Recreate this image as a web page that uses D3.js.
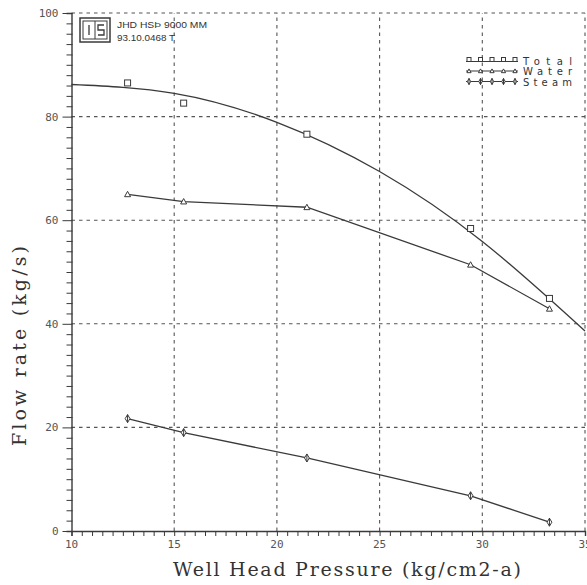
<!DOCTYPE html>
<html><head><meta charset="utf-8">
<script src="https://cdn.jsdelivr.net/npm/d3@7"></script>
<style>body{margin:0;background:#fff}svg{display:block}</style>
</head><body>
<script>
// ---- data ----
const pressure = [12.73, 15.46, 21.46, 29.43, 33.27];
const totalFlow = [86.5, 82.6, 76.6, 58.4, 44.9];
const waterFlow = [65.0, 63.6, 62.5, 51.4, 42.9];
const steamFlow = [21.7, 19.0, 14.1, 6.8, 1.7];
// fitted curve for Total as drawn in the picture (sampled by eye)
const fitPressure = [10, 15, 20, 25, 30, 35];
const fitTotal = [86.2, 84.5, 78.9, 69.4, 55.9, 38.6];
const xTicks = [10, 15, 20, 25, 30, 35];
const yTicks = [0, 20, 40, 60, 80, 100];
const legendNames = ["Total", "Water", "Steam"];
const headerLines = ["JHD HSÞ 9000 MM", "93.10.0468 T"];

const W = 587, H = 585;
const svg = d3.select("body").append("svg").attr("width", W).attr("height", H);
const x = d3.scaleLinear().domain([10, 35]).range([71.5, 585]);
const y = d3.scaleLinear().domain([0, 100]).range([531, 13]);
const ink = "#3a3a3a";

// grid
const grid = svg.append("g").attr("stroke", "#555").attr("stroke-width", 1.1).attr("stroke-dasharray", "3.5,4");
xTicks.filter(d => d > 10).forEach(d => grid.append("line").attr("x1", x(d)).attr("x2", x(d)).attr("y1", y(0)).attr("y2", y(100)));
yTicks.filter(d => d > 0).forEach(d => grid.append("line").attr("x1", x(10)).attr("x2", x(35)).attr("y1", y(d)).attr("y2", y(d)));

// axes
const xAxis = d3.axisBottom(x).tickValues(d3.range(10, 35.01, 0.5)).tickSize(5).tickFormat("");
const gx = svg.append("g").attr("transform", `translate(0,${y(0)})`).call(xAxis);
gx.select(".domain").attr("stroke", ink).attr("stroke-width", 1.4);
gx.selectAll(".tick line").attr("stroke", ink).attr("stroke-width", 1);
const xLab = svg.append("g");
xTicks.forEach(d => xLab.append("text").attr("x", x(d)).attr("y", y(0) + 17).attr("text-anchor", "middle")
  .attr("font-family", "DejaVu Sans Mono").attr("font-size", 11).attr("fill", "#555").text(d));

const yAxis = d3.axisLeft(y).tickValues(d3.range(0, 100.01, 2)).tickSize(5).tickFormat("");
const gy = svg.append("g").attr("transform", `translate(${x(10)},0)`).call(yAxis);
gy.select(".domain").attr("stroke", ink).attr("stroke-width", 1.4);
gy.selectAll(".tick line").attr("stroke", ink).attr("stroke-width", 1).attr("x2", d => d % 20 === 0 ? -9 : -5).attr("x1", 1);
yTicks.forEach(d => svg.append("text").attr("x", x(10) - 13).attr("y", y(d) + 4).attr("text-anchor", "end")
  .attr("font-family", "DejaVu Sans Mono").attr("font-size", 11).attr("fill", "#555").text(d));

// axis titles
svg.append("text").attr("x", 173).attr("y", 576)
  .attr("font-family", "DejaVu Serif").attr("font-size", 19).attr("fill", "#333")
  .attr("textLength", 348).attr("lengthAdjust", "spacing").text("Well Head Pressure (kg/cm2-a)");
svg.append("text").attr("transform", `translate(26,446) rotate(-90)`)
  .attr("font-family", "DejaVu Serif").attr("font-size", 19).attr("fill", "#333")
  .attr("textLength", 200).attr("lengthAdjust", "spacing").text("Flow rate (kg/s)");

// lines
const fitLine = d3.line().x((d, i) => x(fitPressure[i])).y(d => y(d)).curve(d3.curveNatural);
svg.append("path").attr("d", fitLine(fitTotal)).attr("fill", "none").attr("stroke", ink).attr("stroke-width", 1.3);
const lin = d3.line().x((d, i) => x(pressure[i])).y(d => y(d));
[waterFlow, steamFlow].forEach(s => svg.append("path").attr("d", lin(s)).attr("fill", "none").attr("stroke", ink).attr("stroke-width", 1.3));

// markers
function marker(g, type, cx, cy, s) {
  if (type === 0) g.append("rect").attr("x", cx - s).attr("y", cy - s).attr("width", 2 * s).attr("height", 2 * s).attr("fill", "#fff").attr("stroke", ink).attr("stroke-width", 1);
  else if (type === 1) g.append("path").attr("d", `M${cx - s},${cy + s * 0.8}L${cx},${cy - s}L${cx + s},${cy + s * 0.8}Z`).attr("fill", "#fff").attr("stroke", ink).attr("stroke-width", 1);
  else { g.append("path").attr("d", `M${cx},${cy - s - 1}L${cx + s * 0.8},${cy}L${cx},${cy + s + 1}L${cx - s * 0.8},${cy}Z`).attr("fill", "#fff").attr("stroke", ink).attr("stroke-width", 1);
    g.append("line").attr("x1", cx).attr("x2", cx).attr("y1", cy - s - 1).attr("y2", cy + s + 1).attr("stroke", ink).attr("stroke-width", 1); }
}
const mk = svg.append("g");
[totalFlow, waterFlow, steamFlow].forEach((s, k) => s.forEach((v, i) => marker(mk, k, x(pressure[i]), y(v), 3)));

// legend
const lg = svg.append("g");
legendNames.forEach((n, k) => {
  const ly = 60.5 + k * 10.5;
  lg.append("line").attr("x1", 466).attr("x2", 518).attr("y1", ly + (k === 0 ? 1 : 0)).attr("y2", ly + (k === 0 ? 1 : 0)).attr("stroke", ink).attr("stroke-width", 1.2);
  d3.range(5).forEach(j => marker(lg, k, 469 + j * 11.5, ly - (k === 0 ? 1 : 0), k === 0 ? 2 : 2.1));
  lg.append("text").attr("x", 523).attr("y", ly + 4).attr("font-family", "DejaVu Sans").attr("font-size", 10)
    .attr("textLength", 49).attr("lengthAdjust", "spacing").attr("fill", "#333").text(n);
});

// header logo + text
const hd = svg.append("g");
hd.append("rect").attr("x", 80).attr("y", 18).attr("width", 30).attr("height", 24).attr("fill", "#fff").attr("stroke", ink).attr("stroke-width", 1.5);
hd.append("rect").attr("x", 83).attr("y", 21).attr("width", 24).attr("height", 18).attr("fill", "none").attr("stroke", ink).attr("stroke-width", 1);
hd.append("line").attr("x1", 95).attr("x2", 95).attr("y1", 21).attr("y2", 39).attr("stroke", ink).attr("stroke-width", 1);
hd.append("line").attr("x1", 89).attr("x2", 89).attr("y1", 25).attr("y2", 35).attr("stroke", ink).attr("stroke-width", 1.3);
hd.append("path").attr("d", "M104,25H98V30H104V35H98").attr("fill", "none").attr("stroke", ink).attr("stroke-width", 1.3);
hd.append("text").attr("x", 117).attr("y", 28).attr("font-family", "Liberation Sans").attr("font-size", 8.5)
  .attr("textLength", 90).attr("lengthAdjust", "spacingAndGlyphs").attr("fill", "#333").text(headerLines[0]);
hd.append("text").attr("x", 117).attr("y", 41).attr("font-family", "Liberation Sans").attr("font-size", 8.5)
  .attr("textLength", 58).attr("lengthAdjust", "spacingAndGlyphs").attr("fill", "#333").text(headerLines[1]);
</script>
</body></html>
